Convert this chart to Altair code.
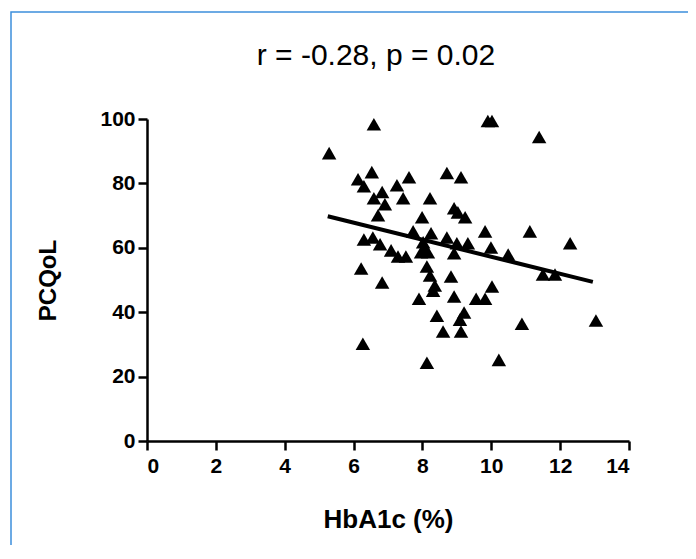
import altair as alt
import pandas as pd

hba1c = [5.29, 6.59, 6.13, 6.53, 6.30, 7.61, 7.26, 6.83, 6.59, 7.44, 6.91, 6.71, 6.30, 6.56,
         6.77, 7.09, 7.29, 7.52, 7.73, 6.22, 6.27, 6.83, 8.71, 9.12, 8.22, 8.92, 9.03, 9.24,
         7.99, 8.25, 8.71, 9.82, 11.12, 8.02, 8.07, 8.16, 7.96, 9.00, 9.32, 9.99, 12.29, 8.92,
         10.49, 8.13, 8.22, 8.83, 11.50, 11.85, 8.36, 8.31, 10.02, 7.90, 8.92, 9.56, 9.82, 9.21,
         8.42, 9.09, 8.60, 9.12, 10.89, 8.13, 10.22, 9.90, 10.02, 11.39, 13.04]
pcqol = [89.4, 98.4, 81.3, 83.5, 79.1, 81.9, 79.4, 77.3, 75.4, 75.4, 73.5, 70.1, 62.6, 63.2,
         61.1, 59.2, 57.3, 57.3, 65.1, 53.6, 30.2, 49.2, 83.2, 81.9, 75.4, 72.3, 71.0, 69.5,
         69.5, 64.5, 63.2, 65.1, 65.1, 61.7, 59.8, 58.6, 58.6, 61.4, 61.4, 60.1, 61.4, 58.3,
         57.9, 54.2, 51.4, 51.1, 51.7, 51.7, 48.3, 46.7, 48.0, 44.2, 44.9, 44.2, 44.2, 39.9,
         38.9, 37.7, 34.0, 34.0, 36.4, 24.3, 25.2, 99.4, 99.4, 94.4, 37.4]

fit_x = [5.25, 12.95]
fit_y = [69.8, 49.4]

x_ticks = [0, 2, 4, 6, 8, 10, 12, 14]
y_ticks = [0, 20, 40, 60, 80, 100]

title_text = "r = -0.28, p = 0.02"

pts = pd.DataFrame({"HbA1c": hba1c, "PCQoL": pcqol})
fit = pd.DataFrame({"HbA1c": fit_x, "PCQoL": fit_y})

FONT = "Liberation Sans"

xscale = alt.Scale(domain=[0, 14], nice=False, zero=False)
yscale = alt.Scale(domain=[0, 100], nice=False, zero=False)

xaxis = alt.Axis(values=x_ticks, title="HbA1c (%)", titleFontSize=26, titleFont=FONT,
                 titleFontWeight="bold", titleColor="black", titleY=86,
                 titleBaseline="alphabetic", labelPadding=5, grid=False)
yaxis = alt.Axis(values=y_ticks, title="PCQoL", titleFontSize=24, titleFont=FONT,
                 titleFontWeight="bold", titleColor="black", titleX=-92, titleY=161,
                 titleAlign="center", titleAngle=-90, titleBaseline="alphabetic",
                 labelPadding=3, grid=False)

points = alt.Chart(pts).mark_point(shape="triangle-up", filled=True, color="black",
                                   size=210, opacity=1).encode(
    x=alt.X("HbA1c:Q", scale=xscale, axis=xaxis),
    y=alt.Y("PCQoL:Q", scale=yscale, axis=yaxis),
)

line = alt.Chart(fit).mark_line(color="black", strokeWidth=4).encode(
    x=alt.X("HbA1c:Q", scale=xscale),
    y=alt.Y("PCQoL:Q", scale=yscale),
)

one = alt.Data(values=[{"t": title_text}])

border = alt.Chart(one).mark_rect(
    fillOpacity=0, stroke="#3d8fdc", strokeWidth=1.5
).encode(
    x=alt.value(-136), x2=alt.value(700), y=alt.value(-107), y2=alt.value(600)
)

title = alt.Chart(one).mark_text(
    font=FONT, fontSize=30, fontWeight="normal", color="black",
    align="center", baseline="alphabetic"
).encode(
    text="t:N", x=alt.value(229), y=alt.value(-54)
)

chart = alt.layer(border, line, points, title).properties(
    width=482,
    height=322,
    background="white",
    autosize=alt.AutoSizeParams(type="none"),
    padding={"left": 139, "top": 111, "right": 59, "bottom": 104},
).configure_view(stroke=None).configure_axis(
    grid=False,
    domainColor="black",
    domainWidth=2.5,
    tickColor="black",
    tickWidth=2.5,
    tickSize=9,
    labelFont=FONT,
    labelFontSize=21,
    labelFontWeight="bold",
    labelColor="black",
)

chart.save("out.html", embed_options={"renderer": "svg", "actions": False})
